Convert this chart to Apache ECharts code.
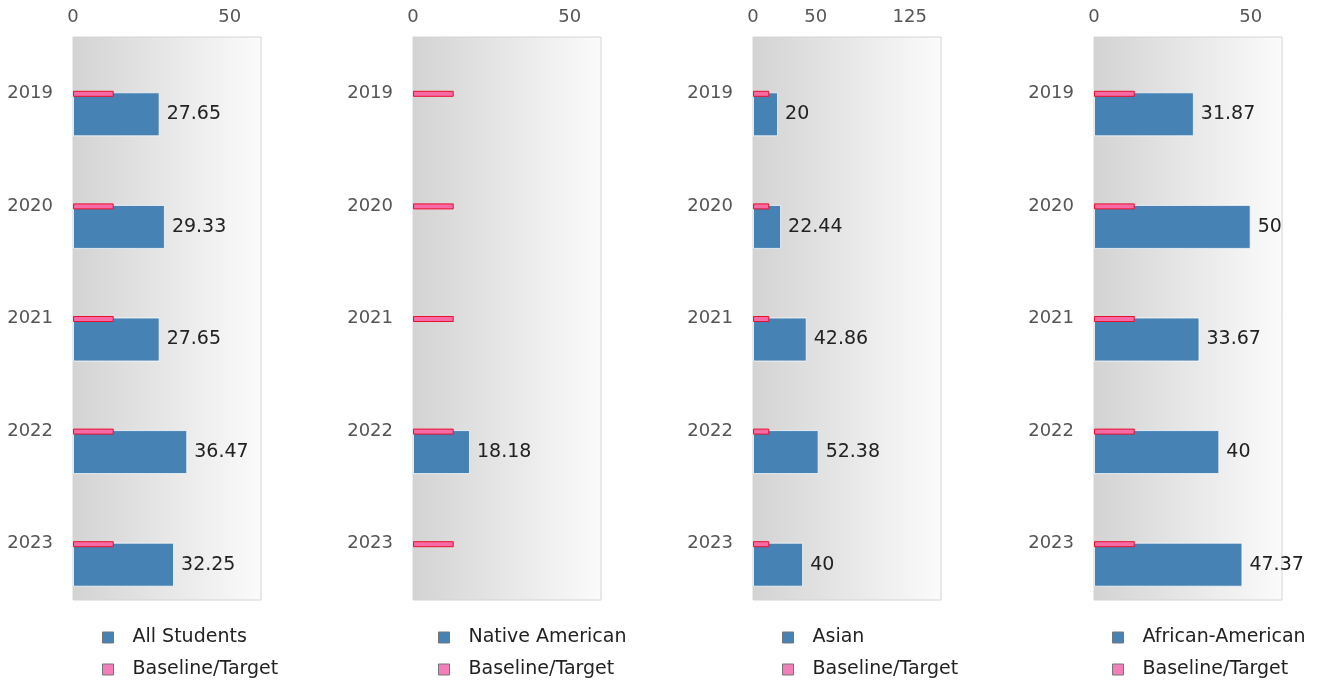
<!DOCTYPE html>
<html>
<head>
<meta charset="utf-8">
<script src="https://cdn.jsdelivr.net/npm/echarts@6/dist/echarts.min.js"></script>
<style>
  html, body { margin: 0; padding: 0; background: #fff; }
  #chart { width: 1317px; height: 681px; }
</style>
</head>
<body>
<div id="chart"></div>
<script>
// Percentages per year for each student group
const years = ['2019', '2020', '2021', '2022', '2023'];
const allStudents = [27.65, 29.33, 27.65, 36.47, 32.25];
const nativeAmerican = ['-', '-', '-', 18.18, '-'];
const asian = [20, 22.44, 42.86, 52.38, 40];
const africanAmerican = [31.87, 50, 33.67, 40, 47.37];
const baselineTarget = [13, 13, 13, 13, 13];

const groupNames = ['All Students', 'Native American', 'Asian', 'African-American'];
const groupValues = [allStudents, nativeAmerican, asian, africanAmerican];
const axisMax = [60, 60, 150, 60];
const axisInterval = [50, 50, 25, 50];
const tickLabels = [[0, 50], [0, 50], [0, 50, 125], [0, 50]];

// Panel layout
const panelLeft = [73, 413, 753, 1094];
const legendLeft = [102, 438, 782, 1112];
const panelWidth = 188;
const panelTop = 37;
const panelHeight = 563;

// Group bar sits just below the category centre, the thin target bar
// straddles the centre and overlaps the bar's top edge.
const BAR_W = 44;
const TARGET_W = 6;
const TARGET_SHIFT = -1.5;                       // target top relative to bar top
const GAP_RATIO = TARGET_SHIFT / BAR_W - 1;      // negative gap so the target overlaps
const BAR_TOP = -1;                              // bar top relative to band centre
const TAIL_W = -2 * BAR_TOP - (BAR_W + TARGET_W) * (1 + GAP_RATIO);
const GAP = (GAP_RATIO * 100).toFixed(4) + '%';

const BLUE = '#4682b4';
const PINK = '#f27fba';
const TARGET_FILL = '#f66aa6';
const RED = '#e8102a';
const FONT = 'DejaVu Sans';

const grids = [], xAxes = [], yAxes = [], series = [], legends = [];

groupNames.forEach(function (name, i) {
  grids.push({
    left: panelLeft[i], top: panelTop, width: panelWidth, height: panelHeight,
    show: true,
    borderColor: '#d4d4d4', borderWidth: 1,
    backgroundColor: {
      type: 'linear', x: 0, y: 0, x2: 1, y2: 0,
      colorStops: [{ offset: 0, color: '#d3d3d3' }, { offset: 1, color: '#fbfbfb' }]
    }
  });
  const shown = tickLabels[i];
  xAxes.push({
    gridIndex: i, type: 'value', position: 'top',
    min: 0, max: axisMax[i], interval: axisInterval[i],
    axisLine: { show: false }, axisTick: { show: false }, splitLine: { show: false },
    axisLabel: {
      margin: 11, color: '#555', fontFamily: FONT, fontSize: 18,
      formatter: function (v) { return shown.indexOf(v) >= 0 ? String(v) : ''; }
    }
  });
  yAxes.push({
    gridIndex: i, type: 'category', data: years, inverse: true,
    axisLine: { show: false }, axisTick: { show: false }, splitLine: { show: false },
    axisLabel: { margin: 20, color: '#555', fontFamily: FONT, fontSize: 18 }
  });
  series.push({
    type: 'bar', name: name, xAxisIndex: i, yAxisIndex: i,
    data: groupValues[i], barWidth: BAR_W, barGap: GAP,
    itemStyle: { color: BLUE, borderColor: 'rgba(255,255,255,0.75)', borderWidth: 1 },
    label: {
      show: true, position: 'right', distance: 7,
      color: '#222', fontFamily: FONT, fontSize: 19
    },
    z: 2
  });
  series.push({
    type: 'bar', name: 'Baseline/Target', xAxisIndex: i, yAxisIndex: i,
    data: baselineTarget, barWidth: TARGET_W, barGap: GAP,
    itemStyle: { color: TARGET_FILL, borderColor: RED, borderWidth: 1 },
    z: 3
  });
  // invisible trailing column that balances the group around the centre
  series.push({
    type: 'bar', name: 'pad' + i, xAxisIndex: i, yAxisIndex: i,
    data: years.map(function () { return '-'; }),
    barWidth: TAIL_W, barGap: GAP, silent: true
  });
  legends.push({
    orient: 'vertical', left: legendLeft[i], top: 628, padding: 0,
    itemWidth: 11, itemHeight: 11, itemGap: 13, icon: 'rect',
    selectedMode: false,
    textStyle: { color: '#222', fontFamily: FONT, fontSize: 19, padding: [0, 0, 0, 14] },
    data: [
      { name: name, itemStyle: { color: BLUE, borderColor: '#777', borderWidth: 1 } },
      { name: 'Baseline/Target', itemStyle: { color: PINK, borderColor: '#777', borderWidth: 1 } }
    ]
  });
});

const chart = echarts.init(document.getElementById('chart'), null, { renderer: 'canvas' });
chart.setOption({
  animation: false,
  grid: grids,
  xAxis: xAxes,
  yAxis: yAxes,
  legend: legends,
  series: series
});
</script>
</body>
</html>
